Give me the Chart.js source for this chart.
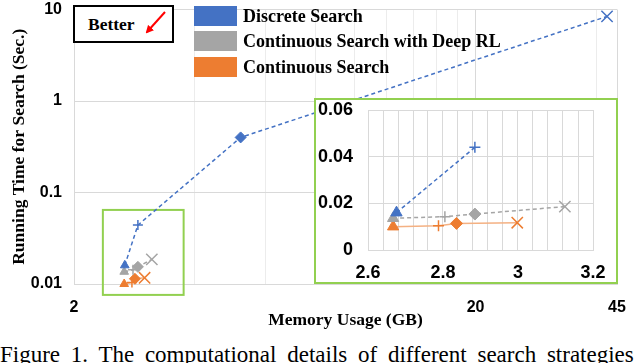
<!DOCTYPE html>
<html>
<head>
<meta charset="utf-8">
<script src="https://cdn.jsdelivr.net/npm/chart.js@4.4.1/dist/chart.umd.min.js"></script>
<style>
  html, body { margin: 0; padding: 0; background: #fff; }
  body { width: 640px; height: 363px; position: relative; overflow: hidden; }
  #mainWrap { position: absolute; left: 0; top: 0; width: 640px; height: 340px; }
  #insetBox { position: absolute; left: 314px; top: 98px; width: 304px; height: 186px;
    border: 2px solid #92d050; box-sizing: border-box; background: #fff; }
  #insetWrap { position: absolute; left: 0; top: 0; width: 300px; height: 182px; }
  #better { position: absolute; left: 73px; top: 5px; width: 101px; height: 38px;
    border: 2px solid #000; box-sizing: border-box; background: #fff; }
  #better span { position: absolute; left: 13px; top: 7px; font: bold 17.5px "Liberation Serif"; line-height: 20px; }
  #arrow { position: absolute; left: 0; top: 0; }
  .leg { position: absolute; left: 194px; height: 20px; }
  .leg i { position: absolute; left: 0; top: 0; width: 43px; height: 20px; }
  .leg span { position: absolute; left: 49px; top: 0; white-space: nowrap;
    font: bold 18px "Liberation Serif"; line-height: 20px; color: #000; }
  #caption { position: absolute; left: 0; top: 343px; white-space: nowrap;
    font: 23px "Liberation Serif"; line-height: 23px; word-spacing: 5px; color: #000; }
</style>
</head>
<body>
<div id="mainWrap"><canvas id="mainChart"></canvas></div>
<div id="better"><span>Better</span></div>
<svg id="arrow" width="640" height="60">
  <defs>
    <marker id="head" markerWidth="8" markerHeight="8" refX="6" refY="4" orient="auto" markerUnits="userSpaceOnUse">
      <path d="M0,0 L8,4 L0,8 z" fill="#ff0000"></path>
    </marker>
  </defs>
  <line x1="165" y1="12" x2="147" y2="32" stroke="#ff0000" stroke-width="2" marker-end="url(#head)"></line>
</svg>
<div id="legend"></div>
<div id="insetBox"><div id="insetWrap"><canvas id="insetChart"></canvas></div></div>
<div id="caption">Figure 1. The computational details of different search strategies</div>

<script>
// series
const seriesNames = ["Discrete Search", "Continuous Search with Deep RL", "Continuous Search"];
const seriesColors = ["#4472c4", "#a5a5a5", "#ed7d31"];
const lineColors = ["#4472c4", "#a5a5a5", "#f4b183"];
const markerStyles = ["triangle", "cross", "rectRot", "crossRot"];

// memory (GB) and running time (sec.) per model, one entry per marker
const discreteMem = [2.676, 2.885, 5.2, 42.5];
const discreteTime = [0.016, 0.044, 0.4, 8.4];
const deepRlMem = [2.667, 2.805, 2.885, 3.125];
const deepRlTime = [0.0136, 0.0143, 0.0154, 0.0186];
const continuousMem = [2.667, 2.788, 2.836, 2.998];
const continuousTime = [0.0100, 0.0104, 0.0114, 0.0117];

// main axes
const memGrid = [2, 4, 6, 8, 10, 12, 14, 16, 18, 20, 40, 45];
const memLabels = [2, 20, 45];
const timeTicks = [0.01, 0.1, 1, 10];

// zoomed region (green box) and inset axes
const zoomMem = [2.36, 3.75];
const zoomTime = [0.0076, 0.0645];
const insetMemGrid = [2.6, 2.64, 2.68, 2.72, 2.76, 2.8, 2.84, 2.88, 2.92, 2.96, 3.0, 3.04, 3.08, 3.12, 3.16, 3.2];
const insetMemLabels = [2.6, 2.8, 3, 3.2];
const insetTimeTicks = [0, 0.02, 0.04, 0.06];

const seriesMem = [discreteMem, deepRlMem, continuousMem];
const seriesTime = [discreteTime, deepRlTime, continuousTime];

Chart.defaults.font.family = "Liberation Sans";
Chart.defaults.color = "#000";

// legend
const legend = document.getElementById("legend");
seriesNames.forEach((name, i) => {
    const row = document.createElement("div");
    row.className = "leg";
    row.style.top = (6 + i * 25.3) + "px";
    row.innerHTML = '<i style="background:' + seriesColors[i] + '"></i><span>' + name + "</span>";
    legend.appendChild(row);
});

function buildSets(radius, keep) {
    return seriesNames.map((name, i) => {
        const pts = seriesMem[i]
            .map((m, j) => ({ x: m, y: seriesTime[i][j], s: markerStyles[j] }))
            .filter(keep);
        return {
            label: name,
            data: pts.map(p => ({ x: p.x, y: p.y })),
            showLine: true,
            borderColor: lineColors[i],
            borderWidth: 1.5,
            borderDash: i === 2 ? [] : [4, 3],
            pointStyle: pts.map(p => p.s),
            pointRadius: pts.map(p => radius[p.s]),
            pointBackgroundColor: seriesColors[i],
            pointBorderColor: seriesColors[i],
            pointBorderWidth: pts.map(p => (p.s === "cross" || p.s === "crossRot") ? 1.5 : 1),
            clip: false,
        };
    });
}

// keep the plot area exactly where the scales say, no room for half labels
function fitX(h) {
    return s => { s.height = h; s.paddingLeft = 0; s.paddingRight = 0; };
}
function fitY(w) {
    return s => { s.width = w; s.paddingTop = 0; s.paddingBottom = 0; };
}

const zoomBox = {
    id: "zoomBox",
    beforeDatasetsDraw(chart) {
        const { ctx, scales } = chart;
        const x0 = scales.x.getPixelForValue(zoomMem[0]);
        const x1 = scales.x.getPixelForValue(zoomMem[1]);
        const y0 = scales.y.getPixelForValue(zoomTime[1]);
        const y1 = scales.y.getPixelForValue(zoomTime[0]);
        ctx.save();
        ctx.strokeStyle = "#92d050";
        ctx.lineWidth = 2;
        ctx.strokeRect(x0, y0, x1 - x0, y1 - y0);
        ctx.restore();
    },
};

const tickFont = { size: 16, weight: "bold" };
const titleFont = { family: "Liberation Serif", size: 17.5, weight: "bold" };

// Main chart
new Chart(document.getElementById("mainChart"), {
    type: "scatter",
    data: {
        datasets: buildSets({ triangle: 5, cross: 5, rectRot: 5.5, crossRot: 8 }, () => true),
    },
    options: {
        responsive: true,
        maintainAspectRatio: false,
        animation: false,
        layout: { padding: { left: 0, top: 6, right: 23, bottom: 0 } },
        plugins: { legend: { display: false }, tooltip: { enabled: false } },
        scales: {
            x: {
                type: "logarithmic",
                min: 2,
                max: 45,
                afterBuildTicks: s => { s.ticks = memGrid.map(v => ({ value: v })); },
                afterFit: fitX(56),
                ticks: {
                    autoSkip: false, maxRotation: 0, padding: 14, font: tickFont, color: "#000",
                    callback: v => memLabels.includes(v) ? String(v) : "",
                },
                grid: {
                    drawTicks: false,
                    color: c => memLabels.includes(c.tick.value) ? "#d9d9d9" : "#ececec",
                },
                border: { color: "#d9d9d9" },
                title: {
                    display: true, text: "Memory Usage (GB)", font: titleFont, color: "#000",
                    padding: { top: 0, bottom: 9 },
                },
            },
            y: {
                type: "logarithmic",
                min: 0.01,
                max: 10,
                afterBuildTicks: s => { s.ticks = timeTicks.map(v => ({ value: v })); },
                afterFit: fitY(74),
                ticks: { padding: 12, font: tickFont, color: "#000", callback: v => String(v) },
                grid: { drawTicks: false, color: "#d9d9d9" },
                border: { color: "#d9d9d9" },
                title: {
                    display: true, text: "Running Time for Search (Sec.)", font: titleFont, color: "#000",
                    padding: { top: 8.5, bottom: 0 },
                },
            },
        },
    },
    plugins: [zoomBox],
});

// Inset chart (zoom on the small-memory region)
const inRange = p => p.x <= insetMemGrid[insetMemGrid.length - 1] && p.y <= insetTimeTicks[insetTimeTicks.length - 1];

new Chart(document.getElementById("insetChart"), {
    type: "scatter",
    data: {
        datasets: buildSets({ triangle: 6.5, cross: 5.5, rectRot: 6, crossRot: 8 }, inRange),
    },
    options: {
        responsive: true,
        maintainAspectRatio: false,
        animation: false,
        layout: { padding: { left: 0, top: 10, right: 23, bottom: 0 } },
        plugins: { legend: { display: false }, tooltip: { enabled: false } },
        scales: {
            x: {
                type: "linear",
                min: 2.6,
                max: 3.2,
                afterBuildTicks: s => { s.ticks = insetMemGrid.map(v => ({ value: v })); },
                afterFit: fitX(32),
                ticks: {
                    autoSkip: false, maxRotation: 0, padding: 12, font: { size: 18, weight: "bold" }, color: "#000",
                    callback: v => {
                        const l = insetMemLabels.find(t => Math.abs(t - v) < 1e-6);
                        return l === undefined ? "" : String(l);
                    },
                },
                grid: { drawTicks: false, color: "#d9d9d9" },
                border: { color: "#d9d9d9" },
            },
            y: {
                min: 0,
                max: 0.06,
                afterBuildTicks: s => { s.ticks = insetTimeTicks.map(v => ({ value: v })); },
                afterFit: fitY(52),
                ticks: { padding: 15, font: { size: 18, weight: "bold" }, color: "#000", callback: v => String(v) },
                grid: { drawTicks: false, color: "#d9d9d9" },
                border: { color: "#d9d9d9" },
            },
        },
    },
});
</script>
</body>
</html>
